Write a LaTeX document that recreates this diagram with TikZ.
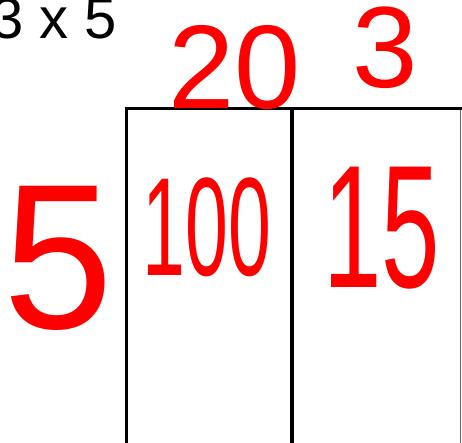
\documentclass[tikz,border=0pt]{standalone}
\usepackage{fontspec}
\setmainfont{Liberation Sans}
\definecolor{inkred}{RGB}{255,0,0}
\begin{document}
\begin{tikzpicture}[x=1pt,y=-1pt,
  gridline/.style={line width=3.5pt,black},
  edgeline/.style={line width=1pt,black!60},
  hand/.style={inkred,inner sep=0pt,anchor=center},
  title/.style={black,inner sep=0pt,font=\fontsize{58}{58}\selectfont}]
\useasboundingbox (0,0) rectangle (462,443);
\clip (0,0) rectangle (462,443);
% box
\coordinate (tl) at (124.5,108.5);
\coordinate (tr) at (462,108.5);
\coordinate (lt) at (126.5,108.5);
\coordinate (lb) at (126.5,443);
\coordinate (mt) at (292,108.5);
\coordinate (mb) at (292,443);
\coordinate (rt) at (460.5,108.5);
\coordinate (rb) at (460.5,443);
\draw[edgeline] (rt) -- (rb);
\draw[gridline] (tl) -- (tr);
\draw[gridline] (lt) -- (lb);
\draw[gridline] (mt) -- (mb);
% title
\node[title,anchor=base east] (ttl) at (117.5,39) {3 x 5};
% handwritten numbers
\node[hand,font=\fontsize{119}{119}\selectfont] (twenty) at (235,68) {\scalebox{1.0}[1]{20}};
\node[hand,font=\fontsize{105}{105}\selectfont] (three) at (385,48) {\scalebox{1.12}[1.1]{3}};
\node[hand,font=\fontsize{188}{188}\selectfont] (five) at (58,258) {\scalebox{1.05}[1.1]{5}};
\node[hand,font=\fontsize{140}{140}\selectfont] (hundred) at (207,227) {\scalebox{0.55}[1]{100}};
\node[hand,font=\fontsize{175}{175}\selectfont] (fifteen) at (382,228) {\scalebox{0.6}[1]{15}};
\end{tikzpicture}
\end{document}
